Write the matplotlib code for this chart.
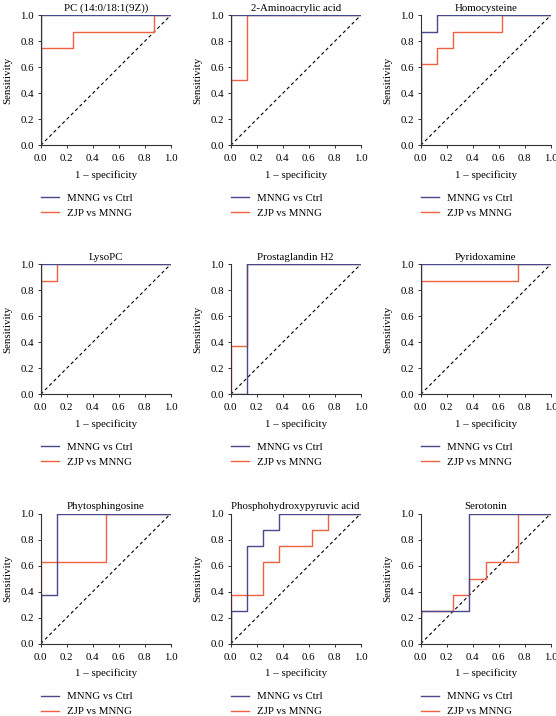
import matplotlib
matplotlib.use('Agg')
import matplotlib.pyplot as plt

plt.rcParams['font.family'] = ['Liberation Serif', 'DejaVu Serif']

## Data
titles = ['PC (14:0/18:1(9Z))', '2-Aminoacrylic acid', 'Homocysteine',
          'LysoPC', 'Prostaglandin H2', 'Pyridoxamine',
          'Phytosphingosine', 'Phosphohydroxypyruvic acid', 'Serotonin']

# ROC step points (1 - specificity, sensitivity)
mnng_fpr = [[0, 0, 1],
            [0, 0, 1],
            [0, 0, 0.125, 0.125, 1],
            [0, 0, 1],
            [0, 0.125, 0.125, 1],
            [0, 0, 1],
            [0, 0, 0.125, 0.125, 1],
            [0, 0, 0.125, 0.125, 0.25, 0.25, 0.375, 0.375, 1],
            [0, 0, 0.375, 0.375, 1]]
mnng_tpr = [[0, 1, 1],
            [0, 1, 1],
            [0, 0.875, 0.875, 1, 1],
            [0, 1, 1],
            [0, 0, 1, 1],
            [0, 1, 1],
            [0, 0.375, 0.375, 1, 1],
            [0, 0.25, 0.25, 0.75, 0.75, 0.875, 0.875, 1, 1],
            [0, 0.25, 0.25, 1, 1]]

zjp_fpr = [[0, 0, 0.25, 0.25, 0.875, 0.875, 1],
           [0, 0, 0.125, 0.125, 1],
           [0, 0, 0.125, 0.125, 0.25, 0.25, 0.625, 0.625, 1],
           [0, 0, 0.125, 0.125, 1],
           [0, 0, 0.125, 0.125, 1],
           [0, 0, 0.75, 0.75, 1],
           [0, 0, 0.5, 0.5, 1],
           [0, 0, 0.25, 0.25, 0.375, 0.375, 0.625, 0.625, 0.75, 0.75, 1],
           [0, 0, 0.25, 0.25, 0.375, 0.375, 0.5, 0.5, 0.75, 0.75, 1]]
zjp_tpr = [[0, 0.75, 0.75, 0.875, 0.875, 1, 1],
           [0, 0.5, 0.5, 1, 1],
           [0, 0.625, 0.625, 0.75, 0.75, 0.875, 0.875, 1, 1],
           [0, 0.875, 0.875, 1, 1],
           [0, 0.375, 0.375, 1, 1],
           [0, 0.875, 0.875, 1, 1],
           [0, 0.625, 0.625, 1, 1],
           [0, 0.375, 0.375, 0.625, 0.625, 0.75, 0.75, 0.875, 0.875, 1, 1],
           [0, 0.25, 0.25, 0.375, 0.375, 0.5, 0.5, 0.625, 0.625, 1, 1]]

ticks = [0.0, 0.2, 0.4, 0.6, 0.8, 1.0]
tick_labels = ['0.0', '0.2', '0.4', '0.6', '0.8', '1.0']

c_mnng = '#48498c'
c_zjp = '#f0623f'
fs = 7.8

fig = plt.figure(figsize=(5.56, 7.16), dpi=100)
lefts = [0.0732, 0.415, 0.7567]
bottoms = [0.797, 0.4493, 0.101]
w, h = 0.2338, 0.1816

for i in range(9):
    ax = fig.add_axes([lefts[i % 3], bottoms[i // 3], w, h])
    ax.plot([0, 1], [0, 1], color='black', linestyle=(0, (3, 2.5)), linewidth=0.8)
    ax.plot(zjp_fpr[i], zjp_tpr[i], color=c_zjp, linewidth=1.0, label='ZJP vs MNNG')
    ax.plot(mnng_fpr[i], mnng_tpr[i], color=c_mnng, linewidth=1.0, label='MNNG vs Ctrl')
    ax.set_xlim(0, 1)
    ax.set_ylim(0, 1)
    ax.set_xticks(ticks)
    ax.set_yticks(ticks)
    ax.set_xticklabels(tick_labels, fontsize=fs)
    ax.set_yticklabels(tick_labels, fontsize=fs)
    ax.tick_params(length=2.5, width=0.7, color='#333333')
    ax.tick_params(axis='x', pad=4)
    ax.tick_params(axis='y', pad=2.5)
    for s in ['top', 'right']:
        ax.spines[s].set_visible(False)
    for s in ['left', 'bottom']:
        ax.spines[s].set_linewidth(0.8)
        ax.spines[s].set_color('#333333')
    ax.set_title(titles[i], fontsize=fs, pad=3)
    ax.set_xlabel('1 – specificity', fontsize=fs, labelpad=5)
    ax.set_ylabel('Sensitivity', fontsize=fs, labelpad=5.5)
    handles, labels = ax.get_legend_handles_labels()
    ax.legend(handles[::-1], labels[::-1], loc='upper left', bbox_to_anchor=(0, -0.37),
              frameon=False, fontsize=fs, handlelength=1.7, handletextpad=0.7,
              borderaxespad=0, borderpad=0, labelspacing=0.5)

fig.savefig('out.png', dpi=100)
